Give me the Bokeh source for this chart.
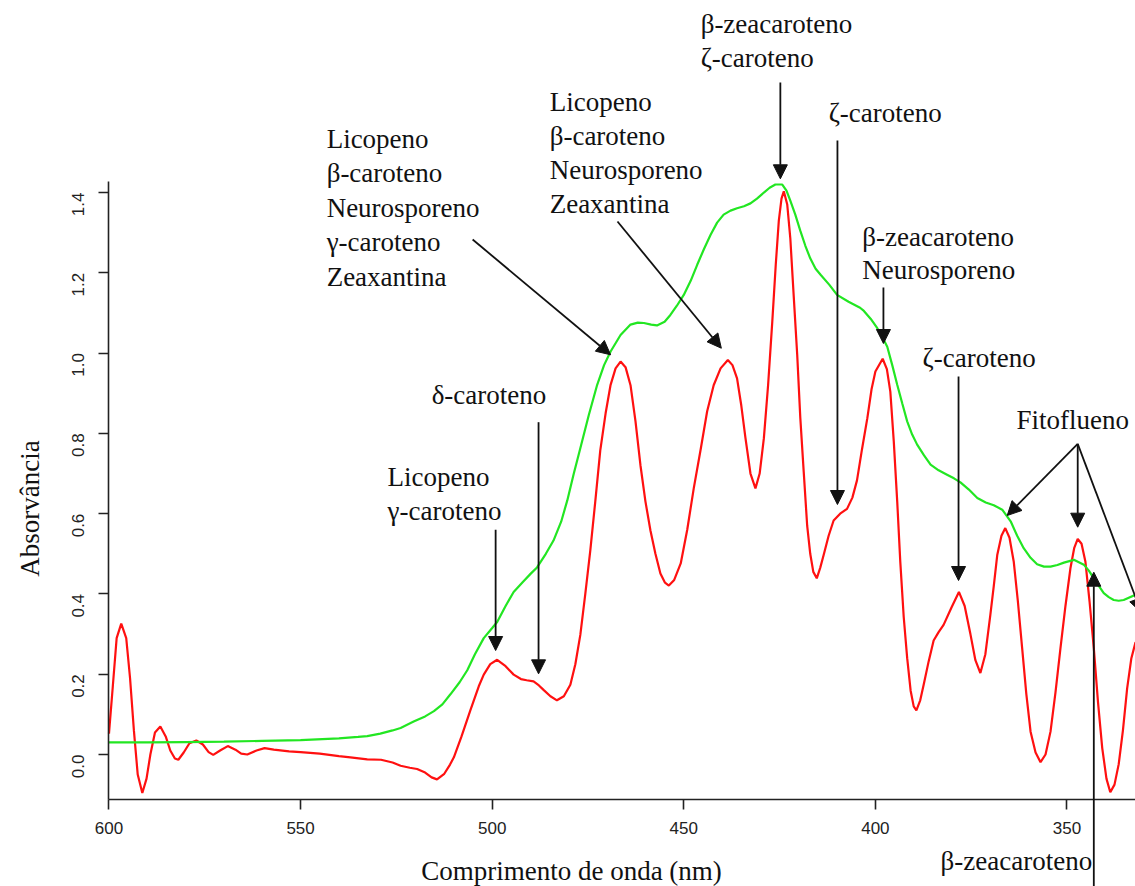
import math
from bokeh.plotting import figure
from bokeh.models import Range1d, Label, Arrow, NormalHead, FixedTicker, NumeralTickFormatter, LinearAxis
from bokeh.embed import file_html
from bokeh.resources import INLINE

# Second-derivative style trace (red)
red_nm = [600.0, 599.0, 598.0, 596.8, 595.5, 594.5, 593.5, 592.5, 591.3, 590.2, 589.2, 588.0,
          586.6, 585.2, 584.0, 582.8, 581.9, 580.5, 579.0, 577.2, 575.5, 574.0, 572.8, 571.0,
          569.0, 567.0, 565.5, 563.9, 561.5, 559.4, 557.0, 553.0, 550.0, 545.0, 540.0, 537.0,
          532.6, 529.0, 526.0, 523.9, 521.5, 519.6, 517.5, 515.8, 514.4, 512.5, 511.0, 510.0,
          508.0, 505.7, 503.5, 502.2, 500.5, 498.7, 496.5, 494.4, 492.5, 491.0, 489.2, 487.8,
          486.6, 484.8, 483.1, 481.3, 479.6, 478.3, 477.0, 475.7, 474.4, 473.1, 471.8, 470.4,
          469.1, 467.8, 466.5, 465.2, 463.9, 462.6, 461.3, 460.0, 458.7, 457.4, 456.1, 454.9,
          453.9, 452.5, 450.8, 449.1, 447.4, 445.6, 443.9, 442.2, 440.4, 438.5, 437.3, 436.1,
          435.0, 433.9, 432.6, 431.3, 430.2, 429.1, 428.0, 426.9, 426.0, 425.2, 424.5, 423.9,
          423.0, 422.2, 421.3, 420.4, 419.6, 418.7, 417.8, 417.0, 416.2, 415.3, 414.4, 413.5,
          412.2, 410.9, 409.2, 407.4, 406.0, 404.8, 403.5, 402.1, 401.0, 400.0, 398.1, 397.0,
          396.1, 395.2, 394.3, 393.5, 392.6, 391.7, 390.8, 390.0, 389.3, 388.3, 387.4, 386.1,
          384.8, 383.5, 382.2, 380.2, 378.2, 376.7, 375.2, 373.9, 372.6, 371.3, 370.0, 369.1,
          368.2, 367.1, 366.1, 365.0, 363.9, 362.8, 361.7, 360.6, 359.5, 358.2, 356.9, 355.6,
          354.3, 353.0, 351.7, 350.4, 349.1, 348.1, 347.2, 346.2, 345.2, 344.1, 343.0, 341.9,
          340.8, 339.7, 338.7, 337.6, 336.5, 335.4, 334.3, 333.2, 332.1]
red_abs = [0.052, 0.17, 0.29, 0.326, 0.29, 0.19, 0.06, -0.05, -0.096, -0.06, 0.0, 0.055,
           0.070, 0.045, 0.01, -0.010, -0.013, 0.005, 0.028, 0.035, 0.025, 0.006, -0.001, 0.010,
           0.021, 0.012, 0.002, 0.000, 0.010, 0.016, 0.012, 0.008, 0.006, 0.002, -0.004, -0.007,
           -0.012, -0.013, -0.020, -0.028, -0.033, -0.036, -0.045, -0.057, -0.062, -0.048, -0.025, -0.007,
           0.045, 0.110, 0.170, 0.199, 0.225, 0.236, 0.220, 0.199, 0.188, 0.185, 0.182, 0.172,
           0.161, 0.145, 0.135, 0.145, 0.174, 0.225, 0.298, 0.40, 0.508, 0.63, 0.757, 0.85,
           0.921, 0.962, 0.979, 0.965, 0.92, 0.83, 0.72, 0.63, 0.558, 0.50, 0.451, 0.428,
           0.421, 0.435, 0.476, 0.56, 0.663, 0.76, 0.855, 0.92, 0.962, 0.983, 0.97, 0.937,
           0.87, 0.788, 0.70, 0.663, 0.70, 0.788, 0.92, 1.079, 1.22, 1.33, 1.385, 1.403,
           1.37, 1.286, 1.14, 0.996, 0.84, 0.704, 0.57, 0.50, 0.455, 0.439, 0.465, 0.497,
           0.545, 0.583, 0.600, 0.612, 0.640, 0.683, 0.76, 0.838, 0.91, 0.954, 0.986, 0.96,
           0.904, 0.78, 0.63, 0.48, 0.342, 0.24, 0.159, 0.12, 0.11, 0.135, 0.174, 0.232,
           0.284, 0.305, 0.323, 0.365, 0.405, 0.37, 0.300, 0.235, 0.203, 0.25, 0.348, 0.42,
           0.497, 0.545, 0.564, 0.54, 0.481, 0.38, 0.265, 0.15, 0.057, 0.005, -0.019, 0.00,
           0.057, 0.155, 0.265, 0.37, 0.464, 0.515, 0.537, 0.525, 0.481, 0.38, 0.265, 0.13,
           0.016, -0.06, -0.094, -0.075, -0.024, 0.06, 0.165, 0.24, 0.28]

# Absorption spectrum (green)
green_nm = [600.0, 590.0, 580.0, 570.0, 560.0, 550.0, 540.0, 535.0, 532.6, 529.2, 526.0, 523.9,
            520.5, 517.5, 515.2, 513.0, 510.9, 508.5, 506.5, 504.5, 502.2, 500.0, 498.7, 496.5,
            494.4, 492.0, 490.0, 488.3, 486.0, 484.0, 482.0, 480.4, 478.7, 477.0, 474.8, 472.6,
            470.8, 469.1, 466.5, 463.9, 462.0, 460.4, 458.5, 457.0, 455.0, 453.5, 451.8, 450.0,
            448.2, 446.5, 444.7, 443.0, 441.3, 439.6, 437.8, 436.1, 434.3, 432.6, 430.9, 429.1,
            427.6, 426.1, 424.3, 423.2, 422.2, 420.9, 419.6, 418.3, 417.0, 415.6, 414.3, 412.0,
            410.0, 407.0, 404.0, 403.0, 401.2, 399.5, 398.2, 396.9, 395.6, 394.3, 393.0, 391.7,
            390.4, 389.1, 387.3, 385.6, 383.5, 381.3, 379.5, 377.8, 375.6, 373.4, 371.2, 369.1,
            366.9, 364.7, 363.0, 361.3, 359.5, 357.8, 356.0, 354.3, 352.5, 350.8, 348.2, 345.6,
            344.3, 343.0, 341.7, 340.4, 339.1, 337.8, 336.5, 335.2, 332.1]
green_abs = [0.030, 0.030, 0.031, 0.032, 0.034, 0.036, 0.040, 0.044, 0.046, 0.052, 0.060, 0.066,
             0.082, 0.095, 0.108, 0.125, 0.150, 0.18, 0.21, 0.25, 0.29, 0.315, 0.33, 0.37,
             0.405, 0.43, 0.45, 0.466, 0.50, 0.533, 0.58, 0.633, 0.70, 0.763, 0.845, 0.921,
             0.97, 1.004, 1.045, 1.071, 1.076, 1.075, 1.071, 1.069, 1.078, 1.095, 1.118, 1.145,
             1.18, 1.22, 1.26, 1.295, 1.325, 1.345, 1.355, 1.361, 1.366, 1.373, 1.385, 1.40,
             1.412, 1.42, 1.42, 1.405, 1.38, 1.345, 1.305, 1.268, 1.236, 1.21, 1.195, 1.17,
             1.145, 1.128, 1.113, 1.105, 1.085, 1.062, 1.04, 1.016, 0.97, 0.921, 0.875, 0.83,
             0.797, 0.772, 0.745, 0.722, 0.708, 0.697, 0.688, 0.678, 0.66, 0.639, 0.628, 0.621,
             0.61, 0.581, 0.545, 0.514, 0.49, 0.474, 0.468, 0.468, 0.472, 0.478, 0.485, 0.473,
             0.458, 0.439, 0.42, 0.402, 0.392, 0.385, 0.383, 0.385, 0.398]

x_ticks = [600, 550, 500, 450, 400, 350]
y_ticks = [0.0, 0.2, 0.4, 0.6, 0.8, 1.0, 1.2, 1.4]

# Extent of the plotted region (axis lines span exactly this)
x_lo, x_hi = 332.12, 600.13
y_lo, y_hi = -0.1121, 1.4275

# Pigment labels: (lines, x in nm, y of each line)
label_blocks = [
    (["Licopeno", "β-caroteno", "Neurosporeno", "γ-caroteno", "Zeaxantina"], 543.2,
     [1.5346, 1.4486, 1.3627, 1.2767, 1.1908]),
    (["Licopeno", "β-caroteno", "Neurosporeno", "Zeaxantina"], 485.0,
     [1.6243, 1.5396, 1.4549, 1.3702]),
    (["β-zeacaroteno", "ζ-caroteno"], 445.6, [1.8211, 1.7364]),
    (["ζ-caroteno"], 412.2, [1.5969]),
    (["β-zeacaroteno", "Neurosporeno"], 403.4, [1.2880, 1.2058]),
    (["ζ-caroteno"], 387.7, [0.9890]),
    (["Fitoflueno"], 363.2, [0.8321]),
    (["δ-caroteno"], 515.8, [0.8944]),
    (["Licopeno", "γ-caroteno"], 527.3, [0.6901, 0.6054]),
    (["β-zeacaroteno"], 383.0, [-0.2641]),
]

# Pointer arrows: (x_start, y_start, x_tip, y_tip) in nm / absorbance
arrows = [
    (505.1, 1.2830, 469.1, 0.9958),
    (467.3, 1.3279, 440.2, 1.0122),
    (424.8, 1.6741, 424.8, 1.4342),
    (409.9, 1.5297, 409.9, 0.6228),
    (397.9, 1.1634, 397.9, 1.0239),
    (378.3, 0.9417, 378.3, 0.4335),
    (347.2, 0.7740, 365.6, 0.5954),
    (347.2, 0.7740, 347.2, 0.5663),
    (347.2, 0.7740, 330.6, 0.3538),
    (487.9, 0.8279, 487.9, 0.2010),
    (499.1, 0.5598, 499.1, 0.2591),
    (343.0, -0.3288, 343.0, 0.4542),
]

SERIF = "Liberation Serif"
SANS = "Liberation Sans"

# The frame fills the whole page so that labels above and below the axes stay visible
p = figure(width=1135, height=886, output_backend="svg", toolbar_location=None,
           x_range=Range1d(628.31, 332.12), y_range=Range1d(-0.3288, 1.8784),
           x_axis_location=None, y_axis_location=None,
           min_border_left=0, min_border_right=0, min_border_top=0, min_border_bottom=0)
p.outline_line_color = None
p.xgrid.visible = False
p.ygrid.visible = False
p.background_fill_color = "white"
p.border_fill_color = "white"

p.line(red_nm, red_abs, line_color="#ff1010", line_width=2.2)
p.line(green_nm, green_abs, line_color="#22e622", line_width=2.2)

xaxis = LinearAxis(fixed_location=y_lo, bounds=(x_lo, x_hi), ticker=FixedTicker(ticks=x_ticks))
yaxis = LinearAxis(fixed_location=x_hi, bounds=(y_lo, y_hi), ticker=FixedTicker(ticks=y_ticks),
                   formatter=NumeralTickFormatter(format="0.0"))
for ax in (xaxis, yaxis):
    ax.axis_line_color = "#222222"
    ax.axis_line_width = 1.6
    ax.major_tick_line_color = "#222222"
    ax.major_tick_line_width = 1.6
    ax.major_tick_in = 0
    ax.major_tick_out = 10
    ax.minor_tick_line_color = None
    ax.major_label_text_font = SANS
    ax.major_label_text_font_size = "17px"
    ax.major_label_text_color = "#222222"
yaxis.major_label_orientation = math.pi / 2
xaxis.major_label_standoff = 12
yaxis.major_label_standoff = 20
p.add_layout(xaxis, "below")
p.add_layout(yaxis, "left")

for lines, xnm, ys in label_blocks:
    for txt, yv in zip(lines, ys):
        p.add_layout(Label(x=xnm, y=yv, text=txt, text_font=SERIF, text_font_size="27px",
                           text_color="#111111", text_align="left", text_baseline="middle"))

for x0, y0, x1, y1 in arrows:
    p.add_layout(Arrow(x_start=x0, y_start=y0, x_end=x1, y_end=y1, line_width=1.8,
                       line_color="#111111",
                       end=NormalHead(size=14, fill_color="#111111", line_color="#111111")))

# Axis titles
p.add_layout(Label(x=479.3, y=-0.289, text="Comprimento de onda (nm)", text_font=SERIF,
                   text_font_size="27px", text_color="#111111", text_align="center",
                   text_baseline="middle"))
p.add_layout(Label(x=620.5, y=0.613, text="Absorvância", text_font=SERIF, angle=math.pi / 2,
                   text_font_size="27px", text_color="#111111", text_align="center",
                   text_baseline="middle"))

open("out.html", "w").write(file_html(p, INLINE))
